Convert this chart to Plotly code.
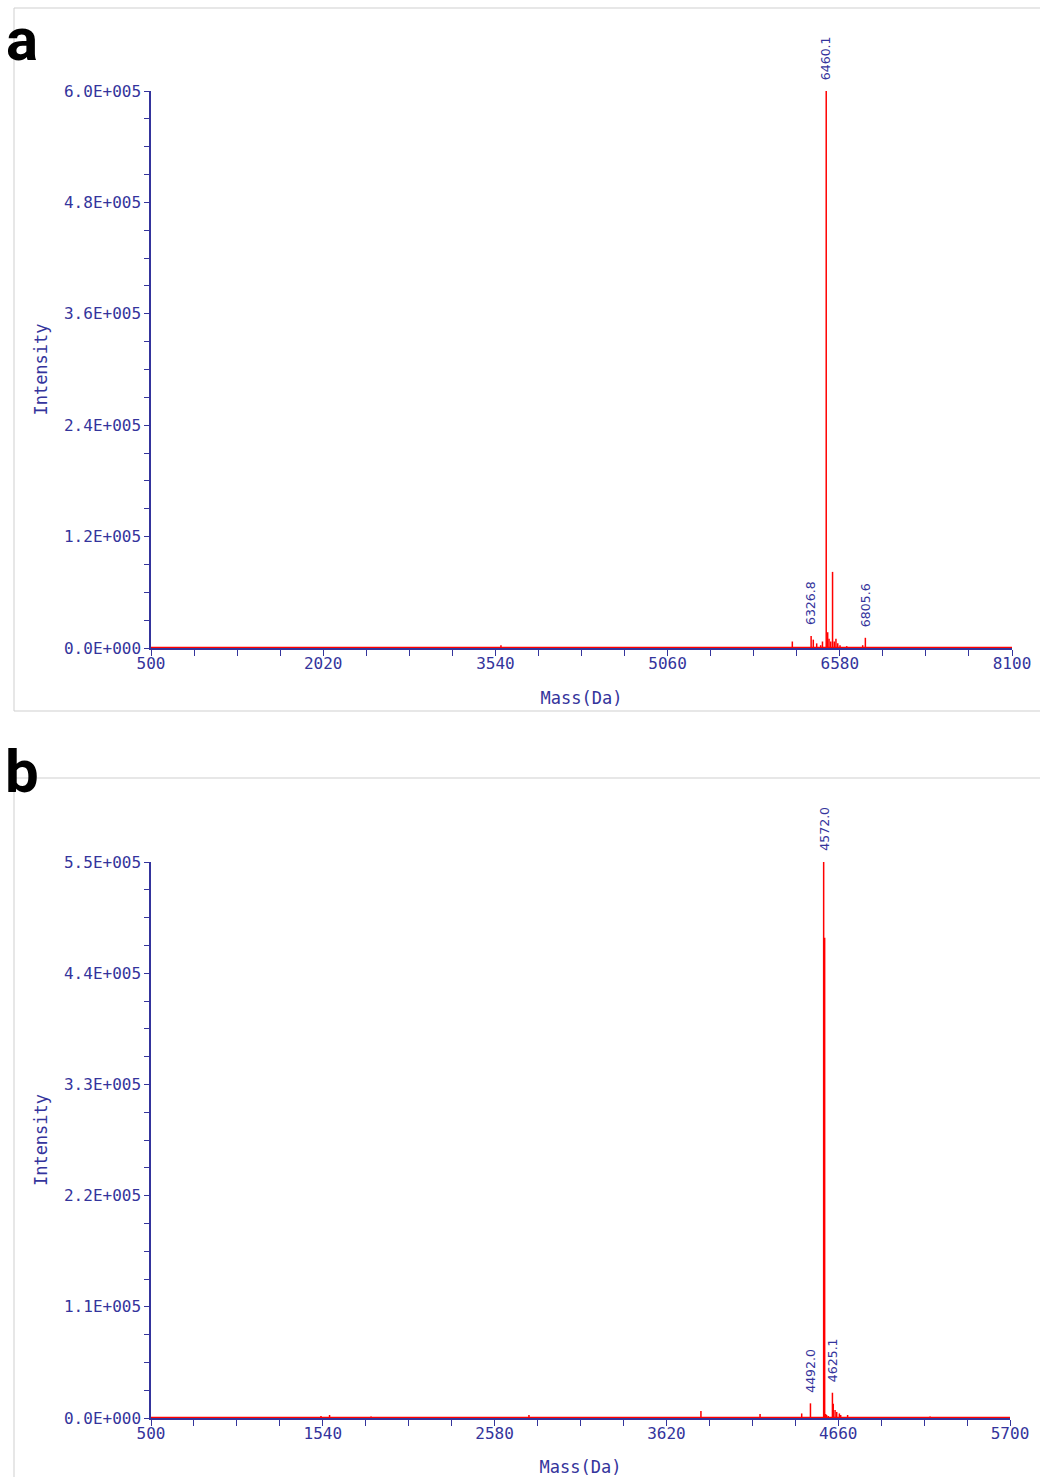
import plotly.graph_objects as go

# ---- spectrum a: deconvoluted peaks (mass in Da, intensity) ----
a_mass = [3589, 6161, 6326.8, 6346, 6376, 6411, 6427, 6460.1, 6473, 6485,
          6500, 6516, 6531, 6546, 6562, 6582, 6641, 6782, 6805.6]
a_int = [3000, 7000, 13000, 9000, 5000, 3000, 7000, 600000, 17000, 10000,
         7000, 82000, 7000, 10000, 5000, 3000, 2000, 3000, 11000]
a_labelled = [6326.8, 6460.1, 6805.6]
a_xticks = [500, 2020, 3540, 5060, 6580, 8100]
a_yticks = [0, 120000, 240000, 360000, 480000, 600000]
a_yticktext = ["0.0E+000", "1.2E+005", "2.4E+005", "3.6E+005", "4.8E+005", "6.0E+005"]

# ---- spectrum b ----
b_mass = [1529, 1581, 1832, 2788, 3829, 4187, 4439, 4492.0, 4572.0, 4578,
          4584, 4590, 4600, 4625.1, 4630, 4641, 4651, 4667, 4675, 4717, 5216]
b_int = [2000, 3000, 1500, 3000, 7000, 4000, 4500, 14500, 550000, 475000,
         4000, 3000, 2000, 25000, 14000, 8000, 6000, 4500, 3000, 3000, 1500]
b_labelled = [4492.0, 4572.0, 4625.1]
b_xticks = [500, 1540, 2580, 3620, 4660, 5700]
b_yticks = [0, 110000, 220000, 330000, 440000, 550000]
b_yticktext = ["0.0E+000", "1.1E+005", "2.2E+005", "3.3E+005", "4.4E+005", "5.5E+005"]

W, H = 1040, 1477
NAVY = "#34349c"
RED = "#ff0000"
MONO = "DejaVu Sans Mono"


def px_x(p):
    return p / W


def px_y(p):
    return 1 - p / H


def sticks(masses, ints):
    xs, ys = [], []
    for m, v in zip(masses, ints):
        xs += [m, m, None]
        ys += [0, v, None]
    return xs, ys


fig = go.Figure()

panels = [
    dict(mass=a_mass, inten=a_int, lab=a_labelled, xt=a_xticks, yt=a_yticks,
         ytt=a_yticktext, xr=[500, 8100], xminor=380, yminor=30000,
         xdom=[px_x(151), px_x(1012)], ydom=[px_y(648), px_y(91)], ax=""),
    dict(mass=b_mass, inten=b_int, lab=b_labelled, xt=b_xticks, yt=b_yticks,
         ytt=b_yticktext, xr=[500, 5700], xminor=260, yminor=27500,
         xdom=[px_x(151), px_x(1010)], ydom=[px_y(1418), px_y(862)], ax="2"),
]

for p in panels:
    xa, ya = "x" + p["ax"], "y" + p["ax"]
    # red baseline of the spectrum
    fig.add_trace(go.Scatter(x=p["xr"], y=[0, 0], mode="lines",
                             line=dict(color=RED, width=2.5),
                             xaxis=xa, yaxis=ya, showlegend=False, hoverinfo="skip"))
    sx, sy = sticks(p["mass"], p["inten"])
    fig.add_trace(go.Scatter(x=sx, y=sy, mode="lines",
                             line=dict(color=RED, width=1.5),
                             xaxis=xa, yaxis=ya, showlegend=False))
    for m in p["lab"]:
        v = p["inten"][p["mass"].index(m)]
        fig.add_annotation(x=m, y=v, xref=xa, yref=ya, text=f"{m:.1f}",
                           textangle=-90, showarrow=False, xanchor="center",
                           yanchor="bottom", yshift=9,
                           font=dict(family="DejaVu Sans", size=12.5, color=NAVY))

    axis_common = dict(showgrid=False, zeroline=False, showline=True,
                       linecolor=NAVY, linewidth=1.5, ticks="outside",
                       tickcolor=NAVY, tickwidth=1.3, ticklen=6, automargin=False,
                       tickfont=dict(family=MONO, size=16, color=NAVY))
    xkey = "xaxis" + p["ax"]
    ykey = "yaxis" + p["ax"]
    fig.update_layout({
        xkey: dict(axis_common, domain=p["xdom"], range=p["xr"], anchor=ya,
                   tickmode="array", tickvals=p["xt"],
                   ticktext=[str(t) for t in p["xt"]], ticklabelstandoff=-6,
                   minor=dict(dtick=p["xminor"], tick0=500, ticks="outside",
                              ticklen=6, tickcolor=NAVY, tickwidth=1.3),
                   title=dict(text="Mass(Da)", standoff=20,
                              font=dict(family=MONO, size=17, color=NAVY))),
        ykey: dict(axis_common, domain=p["ydom"], range=[0, p["yt"][-1]],
                   anchor=xa, tickmode="array", tickvals=p["yt"],
                   ticktext=p["ytt"], ticklen=5,
                   minor=dict(dtick=p["yminor"], tick0=0, ticks="outside",
                              ticklen=5, tickcolor=NAVY, tickwidth=1.3),
                   title=dict(text="Intensity", standoff=12,
                              font=dict(family=MONO, size=17, color=NAVY))),
    })

# grey panel frames
GREY = "#cfcfcf"
fig.add_shape(type="rect", xref="paper", yref="paper",
              x0=px_x(14), x1=px_x(1045), y0=px_y(711), y1=px_y(8),
              line=dict(color=GREY, width=1), fillcolor="rgba(0,0,0,0)", layer="below")
fig.add_shape(type="rect", xref="paper", yref="paper",
              x0=px_x(14), x1=px_x(1045), y0=px_y(1485), y1=px_y(778),
              line=dict(color=GREY, width=1), fillcolor="rgba(0,0,0,0)", layer="below")

# panel letters
for letter, yc in [("a", 39), ("b", 771)]:
    fig.add_annotation(x=px_x(22), y=px_y(yc), xref="paper", yref="paper",
                       text=f"<b>{letter}</b>", showarrow=False,
                       xanchor="center", yanchor="middle",
                       font=dict(family="Roboto", size=60, color="black"))

fig.update_layout(width=W, height=H,
                  margin=dict(l=0, r=0, t=0, b=0, pad=0, autoexpand=False),
                  paper_bgcolor="white", plot_bgcolor="white")

fig.write_html("out.html")
